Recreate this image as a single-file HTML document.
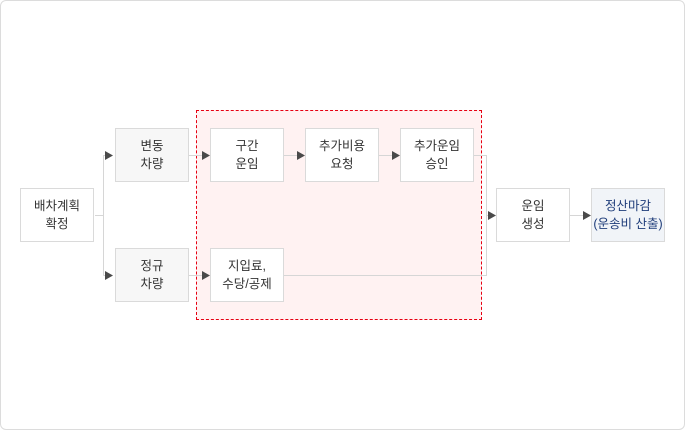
<!DOCTYPE html>
<html><head><meta charset="utf-8"><style>
body{margin:0;width:685px;height:430px;background:#fff;position:relative;overflow:hidden;font-family:"Liberation Sans","Noto Sans CJK KR","NanumGothic",sans-serif;}
.frame{position:absolute;left:0;top:0;width:683px;height:428px;border:1px solid #dcdcdc;border-radius:6px;}
.red{position:absolute;left:196px;top:110px;width:284px;height:208px;border:1px dashed #e60012;background:#fff2f2;}
.b{position:absolute;width:72px;height:52px;border:1px solid #dadada;background:#fff;display:flex;align-items:center;justify-content:center;text-align:center;font-size:12.5px;line-height:18px;color:#333;}
.g{background:#f7f7f7;}
.n{background:#f1f4f8;color:#1f3d7a;}
svg{position:absolute;left:0;top:0;}
</style></head><body>
<div class="frame"></div>
<div class="red"></div>
<svg width="685" height="430">
<g stroke="#d6d6d6" stroke-width="1" fill="none">
<path d="M95 215.5H103.5M103.5 155V275.5M103.5 155.5H106M103.5 275.5H106"/>
<path d="M189 155.5H203M189 275.5H203M284 155.5H298M379 155.5H393"/>
<path d="M474 155.5H486.5V275.5H284M486.5 215.5H489M570 215.5H584"/>
</g>
<g fill="#4a4a4a">
<path d="M105 151L113 155.5L105 160Z"/><path d="M105 271L113 275.5L105 280Z"/>
<path d="M202 151L210 155.5L202 160Z"/><path d="M202 271L210 275.5L202 280Z"/>
<path d="M297 151L305 155.5L297 160Z"/><path d="M392 151L400 155.5L392 160Z"/>
<path d="M488 211L496 215.5L488 220Z"/><path d="M583 211L591 215.5L583 220Z"/>
</g>
</svg>
<div class="b" style="left:20px;top:188px">배차계획<br>확정</div>
<div class="b g" style="left:115px;top:128px">변동<br>차량</div>
<div class="b g" style="left:115px;top:248px">정규<br>차량</div>
<div class="b" style="left:210px;top:128px">구간<br>운임</div>
<div class="b" style="left:210px;top:248px">지입료,<br>수당/공제</div>
<div class="b" style="left:305px;top:128px">추가비용<br>요청</div>
<div class="b" style="left:400px;top:128px">추가운임<br>승인</div>
<div class="b" style="left:496px;top:188px">운임<br>생성</div>
<div class="b n" style="left:591px;top:188px">정산마감<br>(운송비 산출)</div>
</body></html>
